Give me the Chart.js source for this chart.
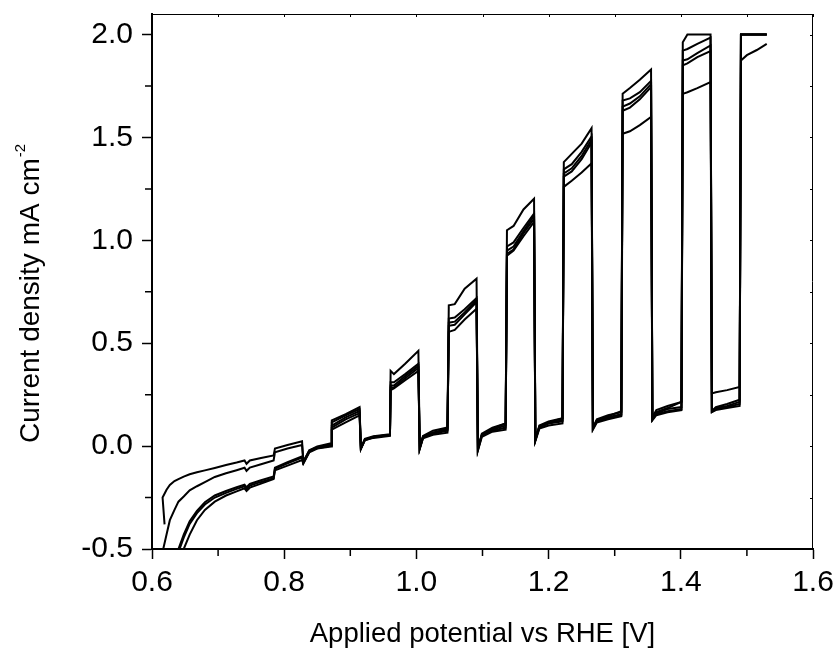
<!DOCTYPE html>
<html><head><meta charset="utf-8">
<script src="https://cdn.jsdelivr.net/npm/chart.js@4.4.1/dist/chart.umd.min.js"></script>
<style>html,body{margin:0;padding:0;background:#fff}canvas{display:block}</style>
</head><body>
<canvas id="c" width="840" height="650"></canvas>
<script>
// Applied potential (V vs RHE) – shared sampling grid for all sweeps
const potential = [
  0.619, 0.616, 0.617, 0.622, 0.627, 0.634, 0.640, 0.648, 0.657, 0.668,
  0.680, 0.695, 0.712, 0.728, 0.740, 0.743, 0.748, 0.765, 0.784, 0.786,
  0.805, 0.827, 0.829, 0.838, 0.850, 0.871, 0.872, 0.893, 0.914, 0.916,
  0.922, 0.935, 0.960, 0.961, 0.966, 0.983, 1.003, 1.005, 1.010, 1.025,
  1.047, 1.049, 1.058, 1.073, 1.091, 1.093, 1.099, 1.115, 1.135, 1.137,
  1.147, 1.162, 1.178, 1.180, 1.186, 1.200, 1.221, 1.223, 1.235, 1.250,
  1.265, 1.267, 1.273, 1.290, 1.310, 1.312, 1.323, 1.338, 1.355, 1.357,
  1.363, 1.380, 1.401, 1.403, 1.410, 1.425, 1.445, 1.447, 1.453, 1.470,
  1.489, 1.491, 1.500, 1.515, 1.530
];
// Current density (mA cm-2) of the five chopped-light sweeps
const sweep1 = [
  -0.380, -0.250, null, -0.212, -0.189, -0.170, -0.160, -0.148, -0.137, -0.127,
  -0.118, -0.106, -0.092, -0.080, -0.070, -0.086, -0.070, -0.058, -0.045, -0.012,
  0.005, 0.024, -0.075, -0.020, -0.002, 0.014, 0.125, 0.155, 0.190, -0.010,
  0.035, 0.048, 0.058, 0.366, 0.350, 0.400, 0.463, -0.005, 0.050, 0.075,
  0.090, 0.684, 0.690, 0.765, 0.814, -0.010, 0.055, 0.085, 0.110, 1.049,
  1.070, 1.150, 1.202, 0.030, 0.095, 0.115, 0.135, 1.380, 1.420, 1.470,
  1.545, 0.085, 0.125, 0.145, 0.170, 1.712, 1.740, 1.780, 1.830, 0.130,
  0.165, 0.185, 0.215, 1.963, 2.000, 2.000, 2.000, 0.170, 0.190, 0.205,
  0.225, 2.000, 2.000, 2.000, 2.000
];
const sweep2 = [
  null, null, -0.500, -0.430, -0.360, -0.310, -0.270, -0.245, -0.215, -0.195,
  -0.175, -0.150, -0.132, -0.117, -0.105, -0.120, -0.104, -0.088, -0.070, -0.030,
  -0.012, 0.005, -0.078, -0.022, -0.005, 0.008, 0.080, 0.115, 0.150, -0.012,
  0.032, 0.045, 0.055, 0.272, 0.280, 0.320, 0.365, -0.010, 0.045, 0.065,
  0.085, 0.555, 0.565, 0.615, 0.668, -0.015, 0.060, 0.090, 0.110, 0.925,
  0.950, 1.020, 1.090, 0.035, 0.100, 0.120, 0.135, 1.260, 1.290, 1.330,
  1.375, 0.090, 0.130, 0.150, 0.165, 1.518, 1.530, 1.560, 1.600, 0.140,
  0.175, 0.195, 0.215, 1.712, 1.720, 1.740, 1.769, 0.256, 0.262, 0.272,
  0.288, 1.874, 1.900, 1.925, 1.955
];
const sweep3 = [
  null, null, null, null, null, null, -0.500, -0.430, -0.365, -0.315,
  -0.273, -0.240, -0.218, -0.200, -0.187, -0.200, -0.184, -0.166, -0.148, -0.105,
  -0.078, -0.050, -0.080, -0.025, -0.008, 0.005, 0.115, 0.150, 0.180, -0.010,
  0.030, 0.045, 0.055, 0.310, 0.310, 0.350, 0.400, -0.010, 0.045, 0.065,
  0.080, 0.620, 0.625, 0.665, 0.720, -0.015, 0.055, 0.080, 0.100, 0.970,
  0.990, 1.060, 1.130, 0.030, 0.095, 0.115, 0.125, 1.345, 1.370, 1.430,
  1.505, 0.085, 0.125, 0.140, 0.155, 1.680, 1.690, 1.720, 1.775, 0.130,
  0.160, 0.180, 0.190, 1.922, 1.930, 1.955, 1.985, 0.170, 0.185, 0.195,
  0.215, 2.000, 2.000, 2.000, 2.000
];
const sweep4 = [
  null, null, null, null, null, null, -0.515, -0.445, -0.378, -0.326,
  -0.284, -0.250, -0.227, -0.208, -0.195, -0.208, -0.192, -0.174, -0.156, -0.110,
  -0.084, -0.056, -0.082, -0.027, -0.010, 0.002, 0.100, 0.140, 0.170, -0.012,
  0.030, 0.043, 0.053, 0.295, 0.295, 0.340, 0.390, -0.012, 0.040, 0.060,
  0.075, 0.600, 0.605, 0.650, 0.710, -0.020, 0.050, 0.075, 0.090, 0.950,
  0.970, 1.045, 1.120, 0.028, 0.090, 0.110, 0.120, 1.325, 1.350, 1.410,
  1.490, 0.085, 0.120, 0.135, 0.150, 1.650, 1.665, 1.700, 1.760, 0.130,
  0.155, 0.170, 0.180, 1.874, 1.880, 1.910, 1.947, 0.167, 0.180, 0.190,
  0.205, 2.000, 2.000, 2.000, 2.000
];
const sweep5 = [
  null, null, null, null, null, null, null, -0.500, -0.430, -0.360,
  -0.310, -0.270, -0.240, -0.220, -0.205, -0.218, -0.202, -0.182, -0.160, -0.118,
  -0.095, -0.068, -0.085, -0.030, -0.012, -0.002, 0.090, 0.130, 0.160, -0.014,
  0.028, 0.040, 0.050, 0.285, 0.285, 0.330, 0.380, -0.015, 0.038, 0.055,
  0.065, 0.585, 0.590, 0.640, 0.700, -0.022, 0.045, 0.070, 0.080, 0.935,
  0.955, 1.035, 1.105, 0.025, 0.085, 0.100, 0.110, 1.310, 1.335, 1.395,
  1.475, 0.080, 0.115, 0.130, 0.145, 1.630, 1.645, 1.685, 1.745, 0.125,
  0.150, 0.165, 0.175, 1.850, 1.860, 1.890, 1.920, 0.165, 0.175, 0.185,
  0.195, 2.000, 2.000, 2.000, 2.000
];
// Axis ticks
const xTicks = [0.6, 0.8, 1.0, 1.2, 1.4, 1.6];
const xMinor = [0.7, 0.9, 1.1, 1.3, 1.5];
const yTicks = [-0.5, 0.0, 0.5, 1.0, 1.5, 2.0];
const yMinor = [-0.25, 0.25, 0.75, 1.25, 1.75];
const xTitle = 'Applied potential vs RHE [V]';
const yTitleMain = 'Current density mA cm';
const yTitleSup = '-2';

const FONT = '"Liberation Sans", Arial, sans-serif';
const sweeps = [sweep1, sweep2, sweep3, sweep4, sweep5];
const datasets = sweeps.map((s, k) => ({
  label: 'Sweep ' + (k + 1),
  data: potential.map((x, i) => ({ x: x, y: s[i] })),
  showLine: true, borderColor: '#000', backgroundColor: '#000',
  borderWidth: 2, pointRadius: 0, pointHoverRadius: 0,
  spanGaps: true, fill: false, tension: 0
}));

const framePlugin = {
  id: 'frame',
  afterDraw(chart) {
    const { ctx, chartArea: a, scales: { x, y } } = chart;
    ctx.save();
    ctx.strokeStyle = '#000';
    ctx.lineWidth = 1;
    ctx.beginPath();
    ctx.moveTo(a.left, a.top + 0.5); ctx.lineTo(a.right, a.top + 0.5);
    ctx.moveTo(a.right - 0.5, a.top); ctx.lineTo(a.right - 0.5, a.bottom);
    xTicks.concat(xMinor).forEach(v => {
      const px = Math.round(x.getPixelForValue(v)) + 0.5;
      ctx.moveTo(px, a.top); ctx.lineTo(px, a.top + 3);
    });
    yTicks.concat(yMinor).forEach(v => {
      const py = Math.round(y.getPixelForValue(v)) + 0.5;
      ctx.moveTo(a.right, py); ctx.lineTo(a.right - 3, py);
    });
    ctx.stroke();
    ctx.lineWidth = 1.5;
    ctx.beginPath();
    xMinor.forEach(v => {
      const px = x.getPixelForValue(v);
      ctx.moveTo(px, a.bottom); ctx.lineTo(px, a.bottom + 7);
    });
    yMinor.forEach(v => {
      const py = y.getPixelForValue(v);
      ctx.moveTo(a.left, py); ctx.lineTo(a.left - 7, py);
    });
    ctx.stroke();
    ctx.fillStyle = '#000';
    ctx.translate(39, 443);
    ctx.rotate(-Math.PI / 2);
    ctx.textAlign = 'left';
    ctx.textBaseline = 'alphabetic';
    ctx.font = '28px ' + FONT;
    ctx.fillText(yTitleMain, 0, 0);
    const w = ctx.measureText(yTitleMain).width;
    ctx.font = '15px ' + FONT;
    ctx.fillText(yTitleSup, w + 1, -14);
    ctx.restore();
  }
};

new Chart(document.getElementById('c'), {
  type: 'scatter',
  data: { datasets },
  options: {
    responsive: false, animation: false, devicePixelRatio: 1,
    layout: { padding: { top: 14, right: 27, left: 0, bottom: 0 } },
    plugins: { legend: { display: false }, tooltip: { enabled: false } },
    events: [],
    scales: {
      x: {
        type: 'linear', min: 0.6, max: 1.6,
        afterBuildTicks: s => { s.ticks = xTicks.map(v => ({ value: v })); },
        afterFit: s => { s.height = 101; s.paddingLeft = 0; s.paddingRight = 0; },
        ticks: { font: { family: FONT, size: 30 }, color: '#000', padding: 6, maxRotation: 0, autoSkip: false,
                 callback: v => Number(v).toFixed(1) },
        grid: { drawOnChartArea: false, drawTicks: true, tickLength: 10, tickWidth: 1.5, tickColor: '#000' },
        border: { display: true, color: '#000', width: 2 },
        title: { display: true, text: xTitle, color: '#000', padding: 0,
                 font: { family: FONT, size: 27.5, lineHeight: 1.1 } }
      },
      y: {
        type: 'linear', min: -0.5, max: 2.1,
        afterBuildTicks: s => { s.ticks = yTicks.map(v => ({ value: v })); },
        afterFit: s => { s.width = 152; s.paddingTop = 0; s.paddingBottom = 0; },
        ticks: { font: { family: FONT, size: 30 }, color: '#000', padding: 9, autoSkip: false,
                 callback: v => Number(v).toFixed(1) },
        grid: { drawOnChartArea: false, drawTicks: true, tickLength: 10, tickWidth: 1.5, tickColor: '#000' },
        border: { display: true, color: '#000', width: 2 }
      }
    }
  },
  plugins: [framePlugin]
});
</script>
</body></html>
